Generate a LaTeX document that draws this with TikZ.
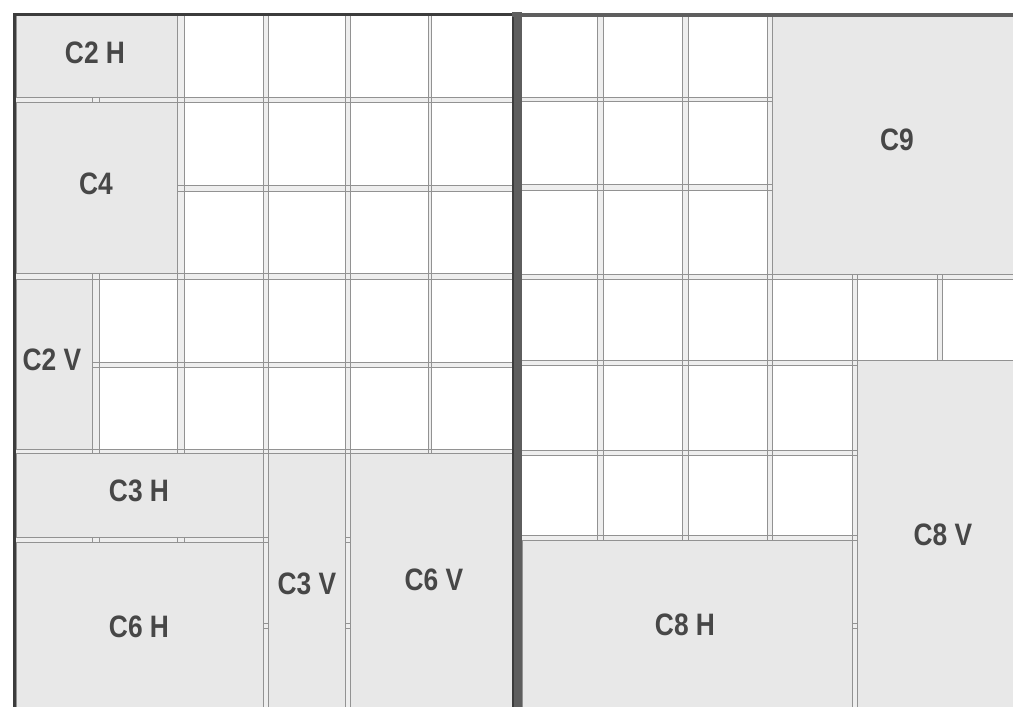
\documentclass[tikz,border=0pt]{standalone}
\usepackage{fontspec}
\newfontfamily\lblfont[FakeStretch=0.85]{Liberation Sans}
\definecolor{shade}{HTML}{E8E8E8}
\definecolor{guide}{HTML}{929292}
\definecolor{band}{HTML}{EEEEEE}
\definecolor{border}{HTML}{3C3C3C}
\definecolor{bordertwo}{HTML}{5E5E5E}
\definecolor{ink}{HTML}{474747}
\tikzset{
  guideline/.style={draw=guide, line width=0.9pt},
  gutterband/.style={fill=band},
  cellbox/.style={fill=shade, draw=guide, line width=0.9pt},
  lbl/.style={text=ink, font=\lblfont\bfseries\fontsize{31}{31}\selectfont, inner sep=0pt}
}
\begin{document}
\begin{tikzpicture}[x=1pt,y=-1pt]
\useasboundingbox (0,0) rectangle (1013,707);
\clip (0,0) rectangle (1013,707);
\fill[white] (0,0) rectangle (1013,707);
% ---- left page gutters
\foreach \a/\b in {92/99,177/184,263/268,345/350,428/431}
  \fill[gutterband] (\a,15) rectangle (\b,707);
\foreach \a/\b in {97/102,185/191,273/279,362/367,449/453,537/542,623/628}
  \fill[gutterband] (15,\a) rectangle (512,\b);
\foreach \a/\b in {92/99,177/184,263/268,345/350,428/431}
  \draw[guideline] (\a,15) -- (\a,707) (\b,15) -- (\b,707);
\foreach \a/\b in {97/102,185/191,273/279,362/367,449/453,537/542,623/628}
  \draw[guideline] (15,\a) -- (512,\a) (15,\b) -- (512,\b);
% ---- right page gutters
\foreach \a/\b in {597/603,682/688,767/772,852/857,937/942}
  \fill[gutterband] (\a,15) rectangle (\b,707);
\foreach \a/\b in {97/101,184/190,274/279,360/365,450/455,535/540,623/628}
  \fill[gutterband] (522,\a) rectangle (1013,\b);
\foreach \a/\b in {597/603,682/688,767/772,852/857,937/942}
  \draw[guideline] (\a,15) -- (\a,707) (\b,15) -- (\b,707);
\foreach \a/\b in {97/101,184/190,274/279,360/365,450/455,535/540,623/628}
  \draw[guideline] (522,\a) -- (1013,\a) (522,\b) -- (1013,\b);
% ---- shaded modules, left page
\draw[cellbox] (16,15) rectangle (177,97);
\draw[cellbox] (16,102) rectangle (177,273);
\draw[cellbox] (16,279) rectangle (92,449);
\draw[cellbox] (16,453) rectangle (263,537);
\draw[cellbox] (16,542) rectangle (263,712);
\draw[cellbox] (268,453) rectangle (345,712);
\draw[cellbox] (350,453) rectangle (512,712);
% ---- shaded modules, right page
\draw[cellbox] (772,15) rectangle (1016,274);
\draw[cellbox] (857,360) rectangle (1016,712);
\draw[cellbox] (522,540) rectangle (852,712);
% ---- page borders
\draw[border, line width=3pt] (14.5,712) -- (14.5,14.5) -- (512,14.5);
\fill[bordertwo] (512,12) rectangle (522,712);
\draw[border, line width=2pt] (513,13) -- (513,712);
\draw[bordertwo, line width=4pt] (512,14.5) -- (1016,14.5);
% ---- labels
\node[lbl] (c2h) at (95,53) {C2 H};
\node[lbl] (c4)  at (96,184) {C4};
\node[lbl] (c2v) at (52,360) {C2 V};
\node[lbl] (c3h) at (139,491) {C3 H};
\node[lbl] (c6h) at (139,627) {C6 H};
\node[lbl] (c3v) at (307,584) {C3 V};
\node[lbl] (c6v) at (434,580) {C6 V};
\node[lbl] (c9)  at (897,140) {C9};
\node[lbl] (c8v) at (943,535) {C8 V};
\node[lbl] (c8h) at (685,625) {C8 H};
\end{tikzpicture}
\end{document}
